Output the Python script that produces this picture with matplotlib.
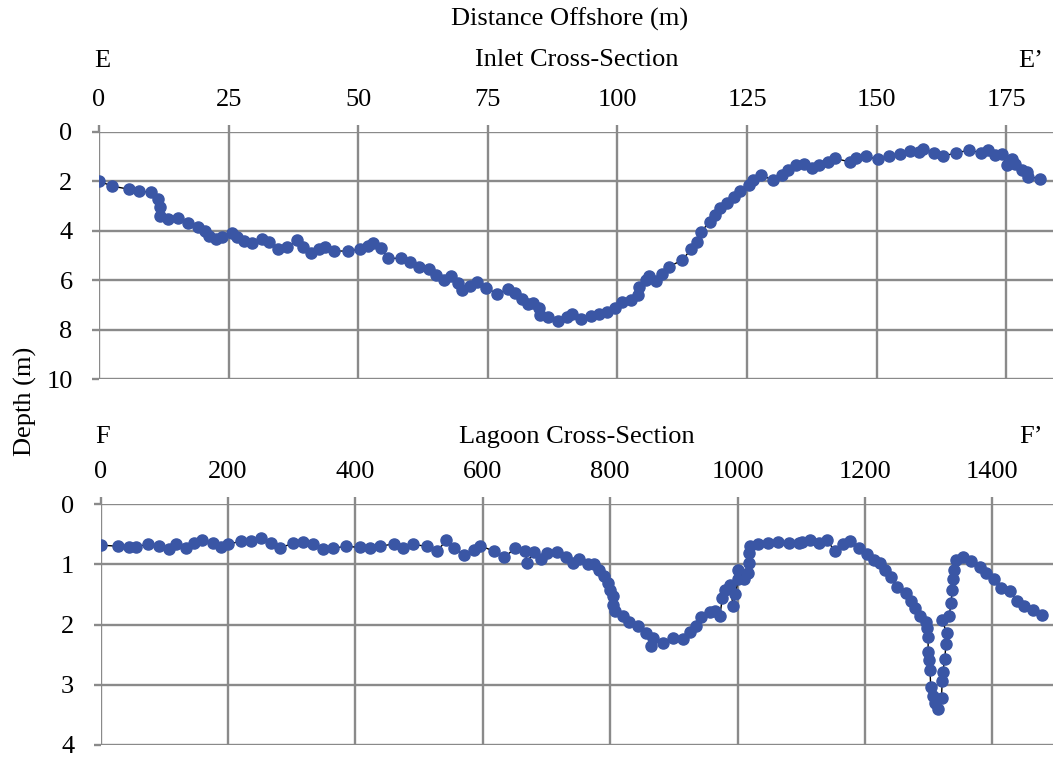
import numpy as np
import matplotlib.pyplot as plt

plt.rcParams['font.family'] = ['Liberation Serif', 'DejaVu Serif']
plt.rcParams['font.size'] = 19

# Inlet cross-section E-E' : distance offshore (m), depth (m)
inlet_x = [0.0, 2.6, 5.7, 7.8, 10.0, 11.4, 11.8, 11.8, 13.4, 15.2, 17.1, 19.1, 20.5,
           21.2, 22.5, 23.8, 25.7, 26.7, 28.0, 29.6, 31.5, 32.8, 34.6, 36.2, 38.2,
           39.3, 40.8, 42.5, 43.5, 45.4, 48.0, 50.3, 51.9, 52.8, 54.3, 55.8, 58.2,
           59.9, 61.8, 63.7, 65.0, 66.6, 67.9, 69.2, 70.0, 71.5, 73.0, 74.6, 76.8,
           78.9, 80.2, 81.5, 82.8, 83.8, 84.8, 85.0, 86.6, 88.6, 90.2, 91.3, 93.0,
           94.8, 96.4, 98.0, 99.6, 100.9, 102.6, 104.0, 104.2, 105.5, 106.1, 107.5,
           108.6, 110.0, 112.5, 114.2, 115.3, 116.1, 117.8, 118.8, 119.8, 121.1,
           122.4, 123.7, 125.3, 126.2, 127.7, 130.0, 131.8, 132.9, 134.4, 135.9,
           137.6, 138.9, 140.7, 142.0, 144.8, 146.1, 148.0, 150.2, 152.3, 154.5,
           156.5, 158.1, 158.9, 161.0, 162.8, 165.3, 167.8, 170.2, 171.5, 172.8,
           174.1, 175.1, 176.0, 176.7, 178.0, 179.0, 179.1, 181.4]
inlet_depth = [2.00, 2.20, 2.32, 2.41, 2.44, 2.72, 3.06, 3.40, 3.54, 3.49, 3.68, 3.84,
               4.00, 4.21, 4.32, 4.27, 4.10, 4.27, 4.40, 4.50, 4.35, 4.44, 4.75, 4.67,
               4.38, 4.64, 4.88, 4.75, 4.67, 4.82, 4.82, 4.75, 4.62, 4.51, 4.71, 5.12,
               5.11, 5.25, 5.45, 5.56, 5.79, 5.99, 5.83, 6.12, 6.39, 6.23, 6.06, 6.30,
               6.55, 6.36, 6.52, 6.77, 6.96, 6.90, 7.13, 7.40, 7.49, 7.63, 7.47, 7.36,
               7.57, 7.44, 7.36, 7.27, 7.13, 6.86, 6.79, 6.59, 6.28, 5.99, 5.83, 6.02,
               5.75, 5.45, 5.18, 4.75, 4.44, 4.04, 3.64, 3.37, 3.10, 2.87, 2.63, 2.39,
               2.16, 1.96, 1.75, 1.96, 1.75, 1.53, 1.35, 1.29, 1.46, 1.35, 1.22, 1.08,
               1.22, 1.08, 0.99, 1.12, 0.99, 0.88, 0.77, 0.81, 0.68, 0.85, 0.99, 0.85,
               0.75, 0.85, 0.75, 0.95, 0.91, 1.35, 1.12, 1.29, 1.55, 1.62, 1.82, 1.89]

# Lagoon cross-section F-F'
lagoon_x = [0, 28, 44, 55, 74, 92, 107, 119, 134, 147, 160, 176, 189, 200, 221, 236,
            252, 268, 281, 302, 318, 334, 349, 365, 386, 407, 423, 439, 460, 475, 491,
            512, 528, 543, 554, 570, 586, 596, 617, 634, 651, 667, 669, 680, 691, 701,
            717, 730, 741, 751, 765, 775, 783, 791, 797, 800, 804, 804, 808, 820, 830,
            843, 856, 864, 867, 883, 898, 914, 925, 935, 943, 956, 964, 972, 976, 980,
            988, 993, 996, 1001, 1001, 1010, 1017, 1018, 1018, 1019, 1032, 1048, 1064,
            1080, 1096, 1101, 1114, 1127, 1140, 1153, 1166, 1177, 1190, 1203, 1214,
            1224, 1232, 1240, 1250, 1264, 1272, 1279, 1287, 1296, 1298, 1299, 1299,
            1301, 1302, 1303, 1306, 1310, 1314, 1320, 1321, 1322, 1325, 1327, 1328,
            1321, 1332, 1335, 1337, 1338, 1340, 1343, 1354, 1367, 1380, 1390, 1402,
            1414, 1427, 1438, 1450, 1463, 1478]
lagoon_depth = [0.68, 0.70, 0.72, 0.72, 0.66, 0.70, 0.74, 0.67, 0.73, 0.65, 0.60, 0.65,
                0.71, 0.67, 0.61, 0.62, 0.57, 0.65, 0.73, 0.65, 0.63, 0.67, 0.74, 0.73,
                0.70, 0.72, 0.73, 0.70, 0.66, 0.73, 0.67, 0.70, 0.78, 0.60, 0.73, 0.84,
                0.76, 0.69, 0.78, 0.88, 0.73, 0.78, 0.97, 0.80, 0.91, 0.81, 0.80, 0.87,
                0.98, 0.91, 0.99, 1.00, 1.09, 1.20, 1.31, 1.42, 1.53, 1.67, 1.78, 1.86,
                1.95, 2.03, 2.14, 2.35, 2.22, 2.31, 2.22, 2.24, 2.13, 2.03, 1.87, 1.80,
                1.78, 1.86, 1.56, 1.42, 1.35, 1.70, 1.50, 1.25, 1.09, 1.25, 1.14, 0.98,
                0.81, 0.69, 0.67, 0.64, 0.63, 0.64, 0.64, 0.63, 0.59, 0.64, 0.60, 0.78,
                0.67, 0.62, 0.73, 0.82, 0.92, 0.98, 1.09, 1.21, 1.37, 1.48, 1.61, 1.72,
                1.86, 1.95, 2.06, 2.21, 2.45, 2.59, 2.76, 3.03, 3.19, 3.30, 3.41, 3.22,
                2.94, 2.79, 2.58, 2.33, 2.14, 1.92, 1.86, 1.64, 1.42, 1.25, 1.09, 0.92,
                0.88, 0.95, 1.04, 1.14, 1.25, 1.39, 1.45, 1.61, 1.69, 1.76, 1.85]

dot_color = '#3A56A5'
grid_color = '#8A8A8A'

fig = plt.figure(figsize=(10.53, 7.57), dpi=100)
ax1 = fig.add_axes([0.094, 0.499, 0.906, 0.327])
ax2 = fig.add_axes([0.0955, 0.016, 0.9045, 0.318])


def style_axis(ax, xticks, yticks, xlim, ylim):
    ax.set_xlim(*xlim)
    ax.set_ylim(*ylim)
    ax.set_xticks(xticks)
    ax.set_yticks(yticks)
    ax.xaxis.tick_top()
    for s in ax.spines.values():
        s.set_visible(False)
    ax.grid(True, color=grid_color, linewidth=1.7)
    ax.tick_params(axis='both', length=5, width=1.7, color=grid_color,
                   labelsize=19, colors='black')
    ax.tick_params(axis='x', pad=10, color=grid_color)
    ax.tick_params(axis='y', pad=14, color=grid_color)
    ax.set_axisbelow(True)


ax1.plot(inlet_x, inlet_depth, color='black', linewidth=1, zorder=2)
ax1.plot(inlet_x, inlet_depth, 'o', color=dot_color, markersize=8, zorder=3)
style_axis(ax1, range(0, 176, 25), range(0, 11, 2), (0, 184), (10, 0))

ax2.plot(lagoon_x, lagoon_depth, color='black', linewidth=1, zorder=2)
ax2.plot(lagoon_x, lagoon_depth, 'o', color=dot_color, markersize=8, zorder=3)
style_axis(ax2, range(0, 1401, 200), range(0, 5), (0, 1495), (4, 0))

fig.text(0.541, 0.974, 'Distance Offshore (m)', ha='center', va='center', fontsize=19)
fig.text(0.548, 0.921, 'Inlet Cross-Section', ha='center', va='center', fontsize=19)
fig.text(0.097, 0.919, 'E', ha='center', va='center', fontsize=19)
fig.text(0.979, 0.919, 'E\u2019', ha='center', va='center', fontsize=19)
fig.text(0.548, 0.423, 'Lagoon Cross-Section', ha='center', va='center', fontsize=19)
fig.text(0.097, 0.423, 'F', ha='center', va='center', fontsize=19)
fig.text(0.979, 0.423, 'F\u2019', ha='center', va='center', fontsize=19)
fig.text(0.024, 0.47, 'Depth (m)', ha='center', va='center', rotation=90, fontsize=19)

fig.savefig('out.png', dpi=100)
